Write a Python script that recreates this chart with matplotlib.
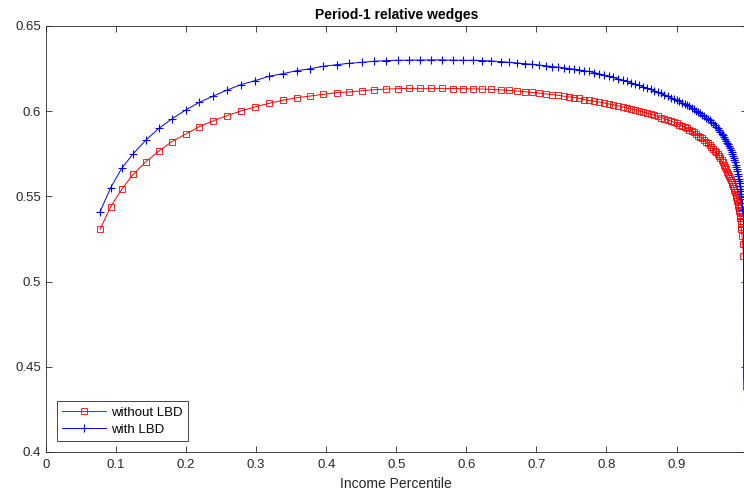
import matplotlib
matplotlib.use("Agg")
import matplotlib.pyplot as plt

plt.rcParams['font.family'] = ['Liberation Sans', 'DejaVu Sans']

# income percentile grid (shared by both series)
pct = [
    0.0771, 0.0923, 0.1081, 0.1246, 0.1427, 0.1613, 0.1794, 0.1994, 0.2188, 0.2388,
    0.2584, 0.2783, 0.2983, 0.3183, 0.3379, 0.3578, 0.3768, 0.3958, 0.4149,
    0.4325, 0.4506, 0.4682, 0.4853, 0.5020, 0.5186, 0.5338, 0.5495, 0.5657, 0.5805,
    0.5948, 0.6090, 0.6223, 0.6356, 0.6490, 0.6613, 0.6727, 0.6837, 0.6941, 0.7041,
    0.7137, 0.7227, 0.7312, 0.7394, 0.7469, 0.7541, 0.7612,
    0.7683, 0.7751, 0.7822, 0.7898, 0.7965, 0.8036, 0.8098, 0.8169, 0.8232, 0.8289,
    0.8350, 0.8407, 0.8464, 0.8521, 0.8574, 0.8631, 0.8683, 0.8731, 0.8778, 0.8825,
    0.8874, 0.8921, 0.8964, 0.9002, 0.9039,
    0.9078, 0.9114, 0.9149, 0.9184, 0.9216, 0.9249, 0.9281, 0.9311, 0.9341, 0.9369,
    0.9396, 0.9423, 0.9449, 0.9475, 0.9499, 0.9522, 0.9545, 0.9566, 0.9586, 0.9606,
    0.9625, 0.9643, 0.9660, 0.9677, 0.9693, 0.9709, 0.9723, 0.9737, 0.9750, 0.9763,
    0.9775, 0.9786, 0.9798, 0.9807, 0.9817, 0.9827, 0.9836, 0.9844, 0.9853, 0.9860,
    0.9867, 0.9874, 0.9882, 0.9887, 0.9893, 0.9899, 0.9904, 0.9909, 0.9913, 0.9917,
    0.9921, 0.9926,
    0.9935, 0.9945, 0.9955, 0.9960,
]

wedge_no_lbd = [
    0.5307, 0.5440, 0.5542, 0.5630, 0.5704, 0.5766, 0.5821, 0.5866, 0.5909, 0.5944,
    0.5974, 0.6001, 0.6025, 0.6046, 0.6064, 0.6079, 0.6089, 0.6099, 0.6109,
    0.6113, 0.6120, 0.6126, 0.6130, 0.6132, 0.6134, 0.6134, 0.6134, 0.6134, 0.6133,
    0.6132, 0.6131, 0.6130, 0.6128, 0.6125, 0.6122, 0.6118, 0.6114, 0.6110, 0.6106,
    0.6101, 0.6097, 0.6093, 0.6088, 0.6084, 0.6080, 0.6076,
    0.6068, 0.6063, 0.6059, 0.6054, 0.6048, 0.6042, 0.6037, 0.6031, 0.6025, 0.6020,
    0.6014, 0.6008, 0.6002, 0.5996, 0.5990, 0.5983, 0.5977, 0.5970, 0.5963, 0.5956,
    0.5949, 0.5942, 0.5935, 0.5928, 0.5921,
    0.5914, 0.5907, 0.5899, 0.5891, 0.5883, 0.5875, 0.5866, 0.5857, 0.5849, 0.5840,
    0.5830, 0.5821, 0.5811, 0.5801, 0.5791, 0.5780, 0.5769, 0.5758, 0.5747, 0.5735,
    0.5723, 0.5711, 0.5699, 0.5686, 0.5673, 0.5660, 0.5646, 0.5632, 0.5620, 0.5608,
    0.5597, 0.5586, 0.5574, 0.5562, 0.5550, 0.5537, 0.5524, 0.5511, 0.5498, 0.5485,
    0.5472, 0.5458, 0.5444, 0.5430, 0.5416, 0.5401, 0.5386, 0.5371, 0.5356, 0.5340,
    0.5323, 0.5306,
    0.5270, 0.5220, 0.5150, 0.4420,
]

wedge_lbd = [
    0.5410, 0.5551, 0.5665, 0.5751, 0.5831, 0.5900, 0.5954, 0.6007, 0.6052, 0.6089,
    0.6124, 0.6156, 0.6179, 0.6205, 0.6220, 0.6238, 0.6249, 0.6264, 0.6273,
    0.6281, 0.6287, 0.6293, 0.6297, 0.6299, 0.6300, 0.6300, 0.6301, 0.6301, 0.6300,
    0.6299, 0.6299, 0.6297, 0.6295, 0.6291, 0.6287, 0.6283, 0.6279, 0.6275, 0.6271,
    0.6266, 0.6262, 0.6258, 0.6254, 0.6250, 0.6246, 0.6242,
    0.6238, 0.6233, 0.6227, 0.6220, 0.6212, 0.6205, 0.6198, 0.6190, 0.6182, 0.6175,
    0.6167, 0.6160, 0.6152, 0.6144, 0.6136, 0.6128, 0.6120, 0.6112, 0.6104, 0.6096,
    0.6088, 0.6080, 0.6072, 0.6065, 0.6058,
    0.6050, 0.6043, 0.6035, 0.6028, 0.6020, 0.6012, 0.6004, 0.5996, 0.5988, 0.5980,
    0.5972, 0.5963, 0.5955, 0.5946, 0.5937, 0.5928, 0.5918, 0.5909, 0.5899, 0.5889,
    0.5879, 0.5869, 0.5859, 0.5848, 0.5838, 0.5827, 0.5816, 0.5805, 0.5794, 0.5782,
    0.5771, 0.5760, 0.5748, 0.5736, 0.5724, 0.5711, 0.5699, 0.5686, 0.5673, 0.5660,
    0.5647, 0.5633, 0.5619, 0.5605, 0.5591, 0.5576, 0.5561, 0.5546, 0.5531, 0.5515,
    0.5499, 0.5482,
    0.5460, 0.5420, 0.5370, 0.4364,
]

xticks = [0, 0.1, 0.2, 0.3, 0.4, 0.5, 0.6, 0.7, 0.8, 0.9, 1.0]
xticklabels = ['0', '0.1', '0.2', '0.3', '0.4', '0.5', '0.6', '0.7', '0.8', '0.9', '']
yticks = [0.4, 0.45, 0.5, 0.55, 0.6, 0.65]
yticklabels = ['0.4', '0.45', '0.5', '0.55', '0.6', '0.65']

fig = plt.figure(figsize=(7.44, 4.93), dpi=100)
# the right edge of the axes falls just outside the saved image
ax = fig.add_axes([46 / 744, 41 / 493, 700.6 / 744, 426 / 493])

# last point sits at the image edge, only the line reaches it
marked = list(range(len(pct) - 1))
ax.plot(pct, wedge_no_lbd, color='red', lw=0.7, marker='s', ms=3.8,
        mfc='none', mew=0.6, markevery=marked, label='without LBD')
ax.plot(pct, wedge_lbd, color='blue', lw=0.7, marker='+', ms=5.5,
        mew=0.8, markevery=marked, label='with LBD')

ax.set_xlim(0, 1)
ax.set_ylim(0.4, 0.65)
ax.set_xticks(xticks)
ax.set_xticklabels(xticklabels)
ax.set_yticks(yticks)
ax.set_yticklabels(yticklabels)
ax.tick_params(direction='in', top=True, right=True, length=4, width=0.6,
               colors='#262626', labelsize=9.5)
ax.tick_params(axis='x', pad=5)
for s in ax.spines.values():
    s.set_color('#262626')
    s.set_linewidth(0.6)

ax.set_xlabel('Income Percentile', fontsize=10, color='#262626', labelpad=4)
ax.set_title('Period-1 relative wedges', fontsize=10, fontweight='bold', pad=5)

leg = ax.legend(loc='lower left', bbox_to_anchor=(0.0157, 0.026), fontsize=9.5,
                fancybox=False, framealpha=1, edgecolor='#262626',
                handlelength=3.3, handletextpad=0.4, borderpad=0.4,
                labelspacing=0.35, borderaxespad=0)
leg.get_frame().set_linewidth(0.6)

fig.savefig('out.png', dpi=100)
